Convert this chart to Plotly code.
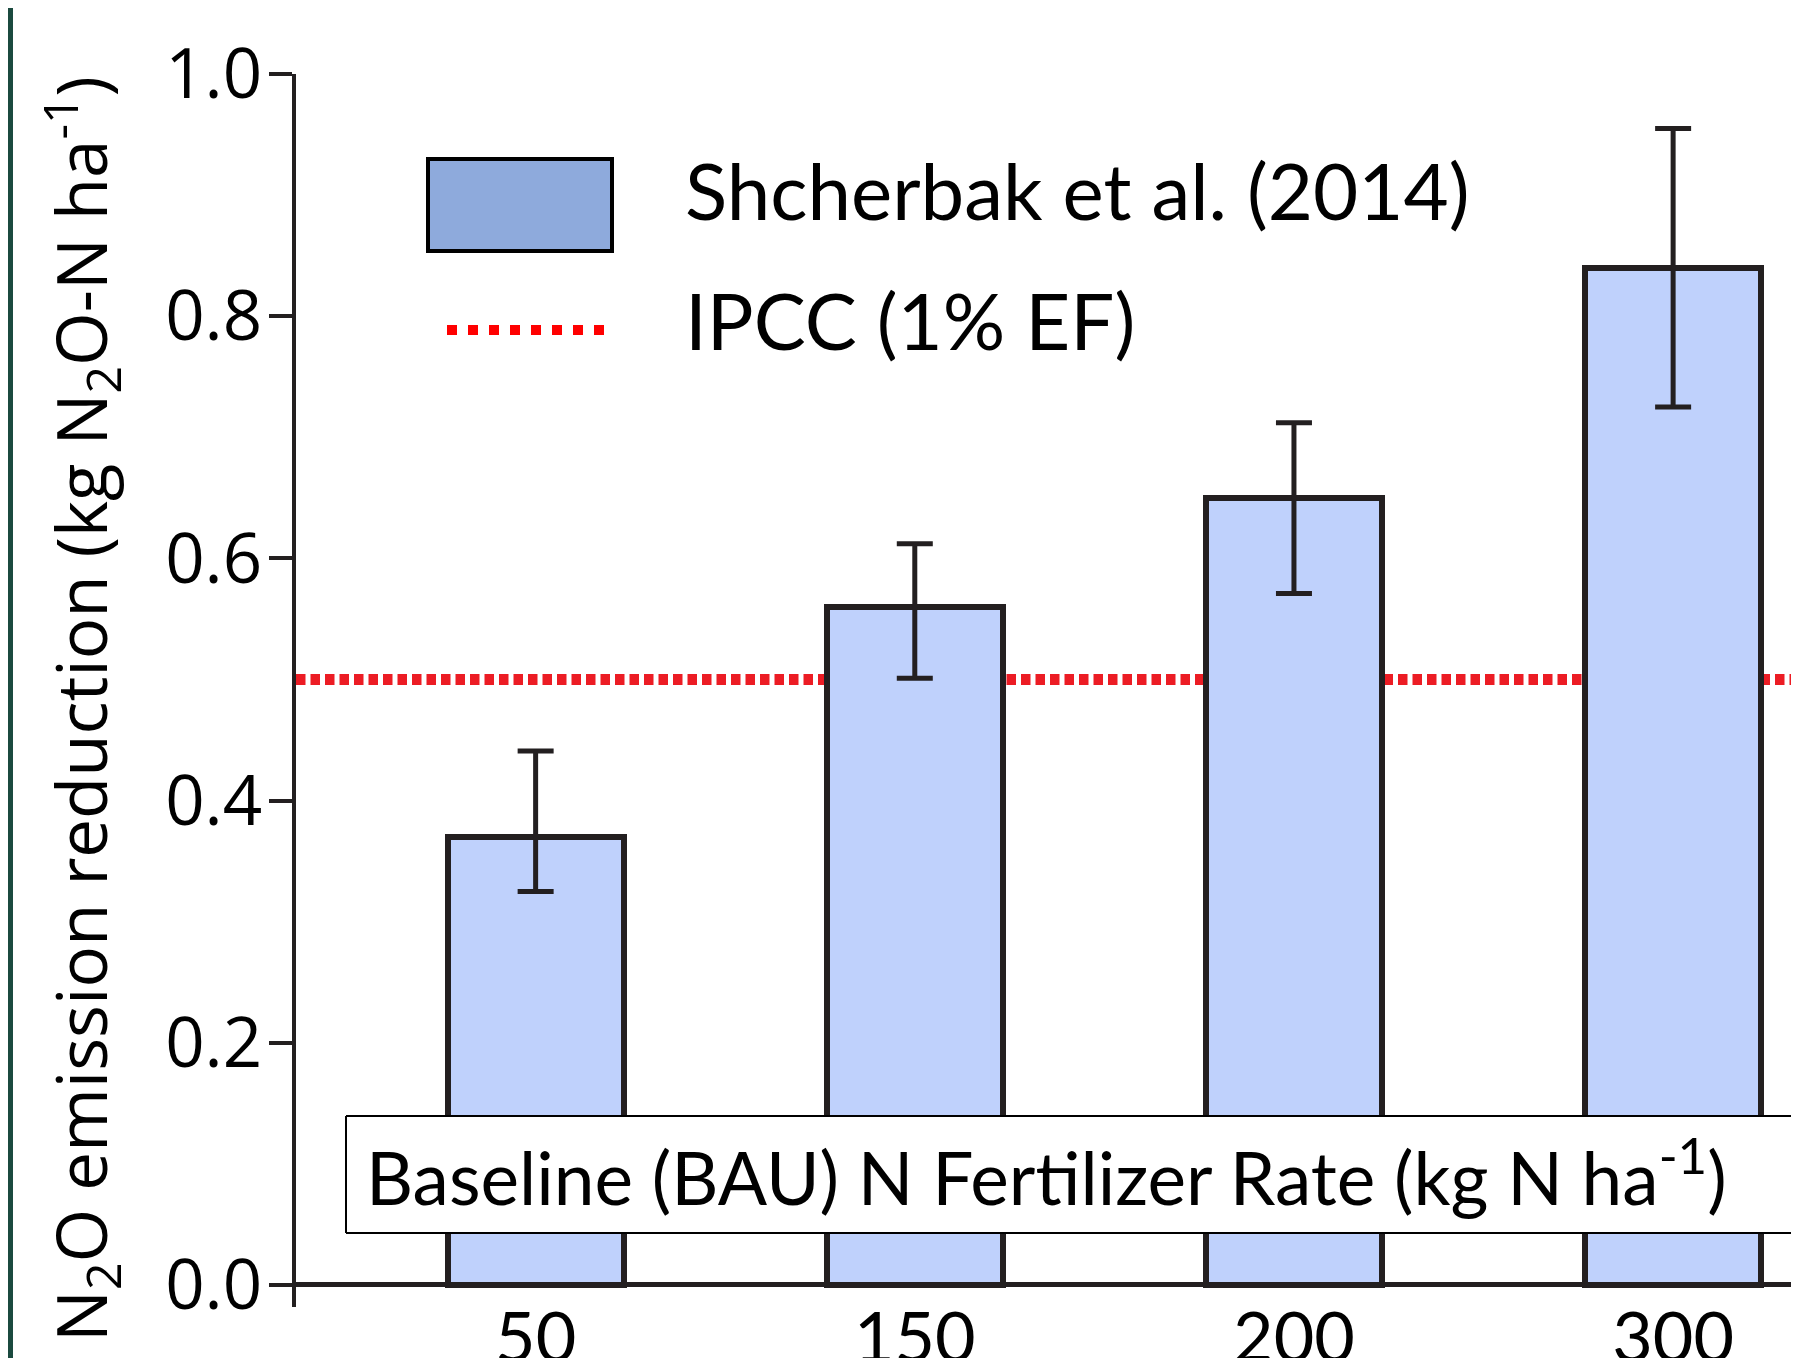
import plotly.graph_objects as go

# ---- data ----
categories = ["50", "150", "200", "300"]
values = [0.37, 0.56, 0.65, 0.84]
err_plus = [0.071, 0.052, 0.062, 0.115]
err_minus = [0.045, 0.059, 0.079, 0.115]
ipcc_value = 0.5
y_ticks = [0.0, 0.2, 0.4, 0.6, 0.8, 1.0]
series_name = "Shcherbak et al. (2014)"
ipcc_name = "IPCC (1% EF)"
x_title = "Baseline (BAU) N Fertilizer Rate (kg N ha<sup>-1</sup>)"
y_title = "N<sub>2</sub>O emission reduction (kg N<sub>2</sub>O-N ha<sup>-1</sup>)"

OFF = 8  # page body margin
W, H = 1799 - OFF, 1358 - OFF
L, R, T, B = 296 - OFF, 0, 74 - OFF, 51
PW = W - L - R
PH = H - T - B


def px(x):
    # x given in page pixels
    return (x - OFF - L) / PW


def py(y):
    return (H - B - (y - OFF)) / PH


DARK = "#231f20"
CAL = "Lato, Open Sans, sans-serif"
SEG = "Open Sans, sans-serif"

fig = go.Figure()
fig.add_trace(go.Bar(
    x=categories, y=values, name=series_name,
    width=0.464,
    marker=dict(color="#bfd1fc", line=dict(color=DARK, width=6)),
    error_y=dict(type="data", symmetric=False, array=err_plus, arrayminus=err_minus,
                 color=DARK, thickness=5, width=18),
    showlegend=False,
))

shapes = [
    dict(type="line", xref="paper", yref="y", x0=0, x1=1.01, y0=ipcc_value, y1=ipcc_value,
         line=dict(color="#ec1c24", width=11, dash="9.5px,5px"), layer="below"),
    dict(type="rect", xref="paper", yref="paper", x0=px(8), x1=px(13), y0=py(1400), y1=py(-40),
         fillcolor="#1b4a3f", line=dict(width=0), layer="above"),
    dict(type="rect", xref="paper", yref="paper", x0=px(428), x1=px(612), y0=py(251), y1=py(159),
         fillcolor="#8eaadc", line=dict(color="black", width=4), layer="above"),
    dict(type="line", xref="paper", yref="paper", x0=px(447), x1=px(608), y0=py(330), y1=py(330),
         line=dict(color="#ff0000", width=10, dash="10px,11px"), layer="above"),
    # x-title box: white fill, then left/top/bottom borders (runs off the right edge)
    dict(type="rect", xref="paper", yref="paper", x0=px(346), x1=px(1830), y0=py(1233), y1=py(1116),
         fillcolor="white", line=dict(width=0), layer="above"),
    dict(type="line", xref="paper", yref="paper", x0=px(346), x1=px(1830), y0=py(1116), y1=py(1116),
         line=dict(color="black", width=2), layer="above"),
    dict(type="line", xref="paper", yref="paper", x0=px(346), x1=px(1830), y0=py(1233), y1=py(1233),
         line=dict(color="black", width=2), layer="above"),
    dict(type="line", xref="paper", yref="paper", x0=px(346), x1=px(346), y0=py(1233), y1=py(1116),
         line=dict(color="black", width=2), layer="above"),
]

annotations = [
    dict(text=series_name, xref="paper", yref="paper", x=px(683), y=py(190),
         xanchor="left", yanchor="middle", showarrow=False,
         font=dict(family=CAL, size=78, color="black")),
    dict(text=ipcc_name, xref="paper", yref="paper", x=px(683), y=py(320),
         xanchor="left", yanchor="middle", showarrow=False,
         font=dict(family=CAL, size=78, color="black")),
    dict(text=x_title, xref="paper", yref="paper", x=px(364), y=py(1172),
         xanchor="left", yanchor="middle", showarrow=False,
         font=dict(family=CAL, size=73, color="black")),
    dict(text=y_title, xref="paper", yref="paper", x=px(80), y=py(709),
         xanchor="center", yanchor="middle", textangle=-90, showarrow=False,
         font=dict(family=SEG, size=69, color="black")),
]

fig.update_layout(
    width=W, height=H, autosize=False,
    margin=dict(l=L, r=R, t=T, b=B, pad=0),
    paper_bgcolor="white", plot_bgcolor="white",
    shapes=shapes, annotations=annotations,
    showlegend=False,
    bargap=0,
)
fig.update_xaxes(
    type="category", range=[-0.632, 3.332], automargin=False,
    showline=False, showgrid=False, zeroline=False, ticks="",
    ticklabelstandoff=-16,
    tickfont=dict(family=CAL, size=70, color="black"),
)
fig.update_yaxes(
    range=[-0.0182, 1.0], tickvals=y_ticks, tickformat=".1f", automargin=False,
    showline=True, linecolor=DARK, linewidth=4,
    ticks="outside", ticklen=23, tickwidth=4, tickcolor=DARK,
    ticklabelstandoff=-7,
    showgrid=False,
    zeroline=True, zerolinecolor=DARK, zerolinewidth=5,
    tickfont=dict(family=SEG, size=69, color="black"),
)

fig.write_html("out.html")
